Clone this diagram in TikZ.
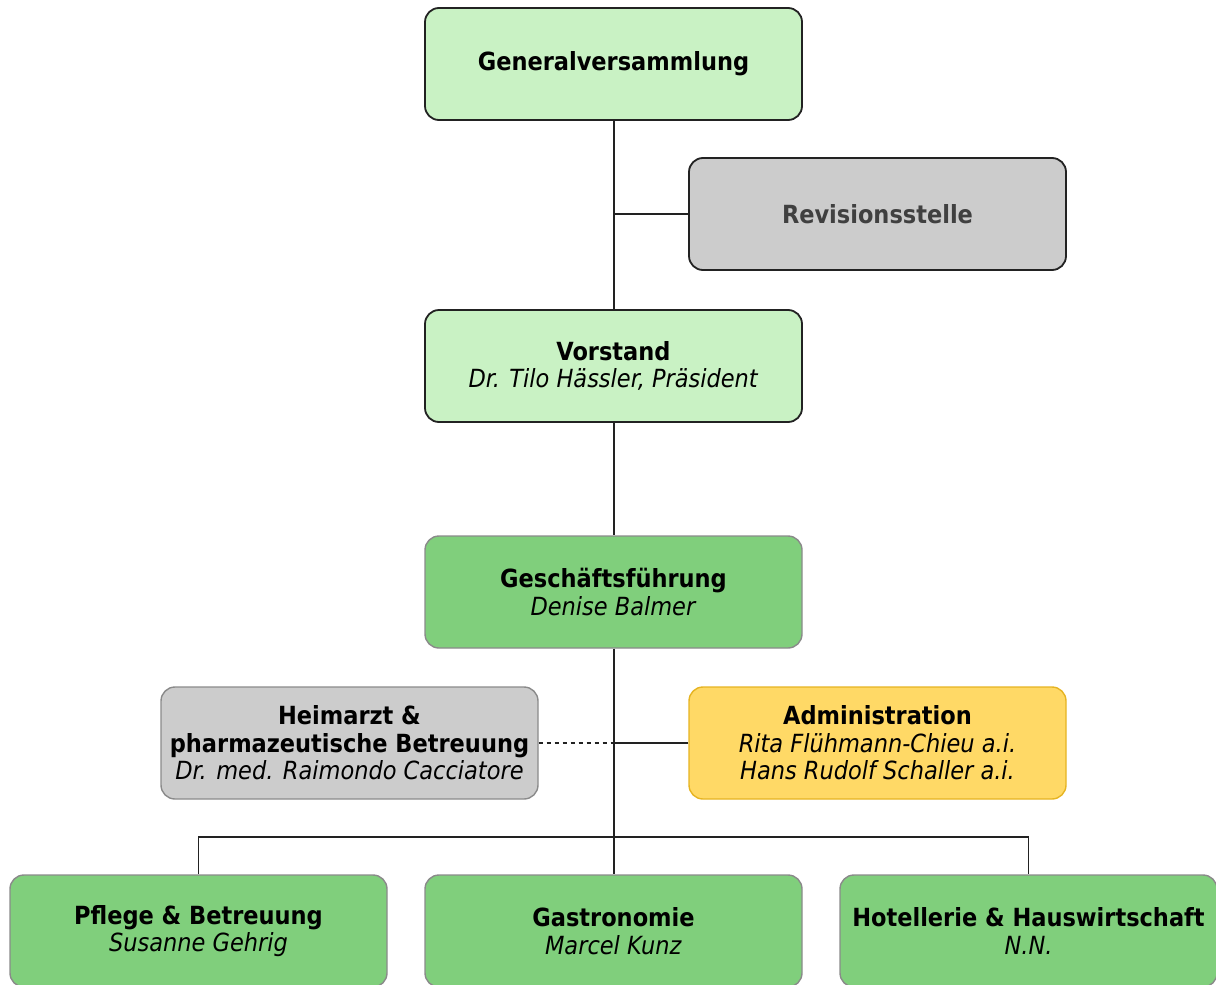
\documentclass[tikz,border=0pt]{standalone}
\usepackage{fontspec}
\setmainfont{DejaVu Sans Condensed}
\begin{document}
\begin{tikzpicture}[x=1pt,y=-1pt]
\definecolor{lgreen}{HTML}{C9F2C4}
\definecolor{mgreen}{HTML}{80CF7C}
\definecolor{lgray}{HTML}{CCCCCC}
\definecolor{yel}{HTML}{FFD966}
\definecolor{yelb}{HTML}{E6B422}
\definecolor{darkb}{HTML}{222222}
\definecolor{grayb}{HTML}{8A8A8A}
\definecolor{revtxt}{HTML}{404040}
\tikzset{
  box/.style={draw, rounded corners=14pt, minimum width=377pt, minimum height=112pt,
    align=center, inner sep=2pt, line width=1.8pt,
    font=\fontsize{25}{27.5}\selectfont},
  darkbox/.style={box, draw=darkb},
  softbox/.style={box, draw=grayb, line width=1.4pt},
  conn/.style={draw=darkb, line width=2pt},
  dconn/.style={draw=darkb, line width=1.5pt, dash pattern=on 4pt off 4pt},
}
\useasboundingbox (0,0) rectangle (1216,985);
\node[darkbox, fill=lgreen] (gv) at (613.5,64) {\textbf{Generalversammlung}};
\node[darkbox, fill=lgray, text=revtxt] (rev) at (877.5,214) {\textbf{Revisionsstelle}};
\node[darkbox, fill=lgreen] (vor) at (613.5,366) {\textbf{Vorstand}\\\textit{Dr. Tilo Hässler, Präsident}};
\node[softbox, fill=mgreen] (gf) at (613.5,592) {\textbf{Geschäftsführung}\\\textit{Denise Balmer}};
\node[softbox, fill=lgray] (heim) at (349.5,743) {\textbf{Heimarzt \&}\\\textbf{pharmazeutische Betreuung}\\\textit{Dr. med. Raimondo Cacciatore}};
\node[box, draw=yelb, line width=1.4pt, fill=yel] (adm) at (877.5,743) {\textbf{Administration}\\\textit{Rita Flühmann-Chieu a.i.}\\\textit{Hans Rudolf Schaller a.i.}};
\node[softbox, fill=mgreen] (pfl) at (198.5,931) {\textbf{Pflege \& Betreuung}\\\textit{Susanne Gehrig}};
\node[softbox, fill=mgreen] (gas) at (613.5,931) {\textbf{Gastronomie}\\\textit{Marcel Kunz}};
\node[softbox, fill=mgreen] (hot) at (1028.5,931) {\textbf{Hotellerie \& Hauswirtschaft}\\\textit{N.N.}};
\coordinate (bus) at (613.5,837);
\path[conn] (gv.south) -- (vor.north);
\path[conn] (rev.west) -- (rev.west -| gv.south);
\path[conn] (vor.south) -- (gf.north);
\path[conn] (gf.south) -- (gas.north);
\path[conn] (adm.west) -- (adm.west -| gf.south);
\path[dconn] (heim.east) -- (heim.east -| gf.south);
\path[conn, line width=1.6pt] (pfl.north) |- (bus) -| (hot.north);
\end{tikzpicture}
\end{document}
